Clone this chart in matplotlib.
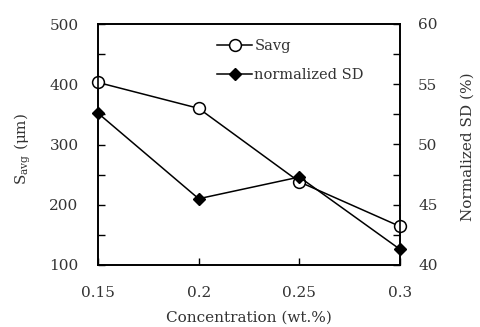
import matplotlib
matplotlib.use("Agg")
import matplotlib.pyplot as plt
from matplotlib.ticker import MultipleLocator

plt.rcParams['font.family'] = ['DejaVu Serif']
plt.rcParams['mathtext.fontset'] = 'dejavuserif'

concentration = [0.15, 0.2, 0.25, 0.3]
savg = [403, 360, 238, 164]
norm_sd = [52.6, 45.5, 47.3, 41.3]
xticks = [0.15, 0.2, 0.25, 0.3]
xtick_labels = ["0.15", "0.2", "0.25", "0.3"]

FS = 11
fig = plt.figure(figsize=(4.81, 3.27), dpi=100)
ax = fig.add_axes([98/481, 1-265/327, 302/481, 241/327])
ax2 = ax.twinx()

l1, = ax.plot(concentration, savg, '-o', color='black', mfc='white', mec='black',
              lw=1.1, ms=8.5, mew=1.1, label='Savg', clip_on=False, zorder=3)
l2, = ax2.plot(concentration, norm_sd, '-D', color='black', lw=1.1, ms=6,
               label='normalized SD', clip_on=False, zorder=4)

ax.set_xlim(0.15, 0.3)
ax.set_ylim(100, 500)
ax2.set_ylim(40, 60)
ax.set_xticks(xticks)
ax.set_xticklabels(xtick_labels)
ax.yaxis.set_major_locator(MultipleLocator(100))
ax.yaxis.set_minor_locator(MultipleLocator(50))
ax2.yaxis.set_major_locator(MultipleLocator(5))
ax2.yaxis.set_minor_locator(MultipleLocator(2.5))

for a in (ax, ax2):
    a.tick_params(which='both', direction='in', length=5, width=1.0,
                  labelsize=FS, labelcolor='#333333')
    for s in a.spines.values():
        s.set_linewidth(1.2)
ax.tick_params(axis='y', pad=14)
ax2.tick_params(axis='y', pad=13)
ax.tick_params(axis='x', pad=15)

ax.set_xlabel('Concentration (wt.%)', fontsize=FS, color='#333333')
ax.xaxis.set_label_coords(0.5, -0.19)
ax.set_ylabel(r'S$_{\mathrm{avg}}$ ($\mathrm{\mu}$m)', fontsize=FS, color='#333333')
ax.yaxis.set_label_coords(-0.215, 0.48)
ax2.set_ylabel('Normalized SD (%)', fontsize=FS, color='#333333')
ax2.yaxis.set_label_coords(1.202, 0.49)

ax2.legend([l1, l2], ['Savg', 'normalized SD'], loc='upper left',
           bbox_to_anchor=(0.375, 0.96), frameon=False, fontsize=10.5,
           handlelength=2.4, handletextpad=0.15, labelspacing=1.0, borderaxespad=0,
           labelcolor='#333333')

fig.savefig('out.png', dpi=100)
